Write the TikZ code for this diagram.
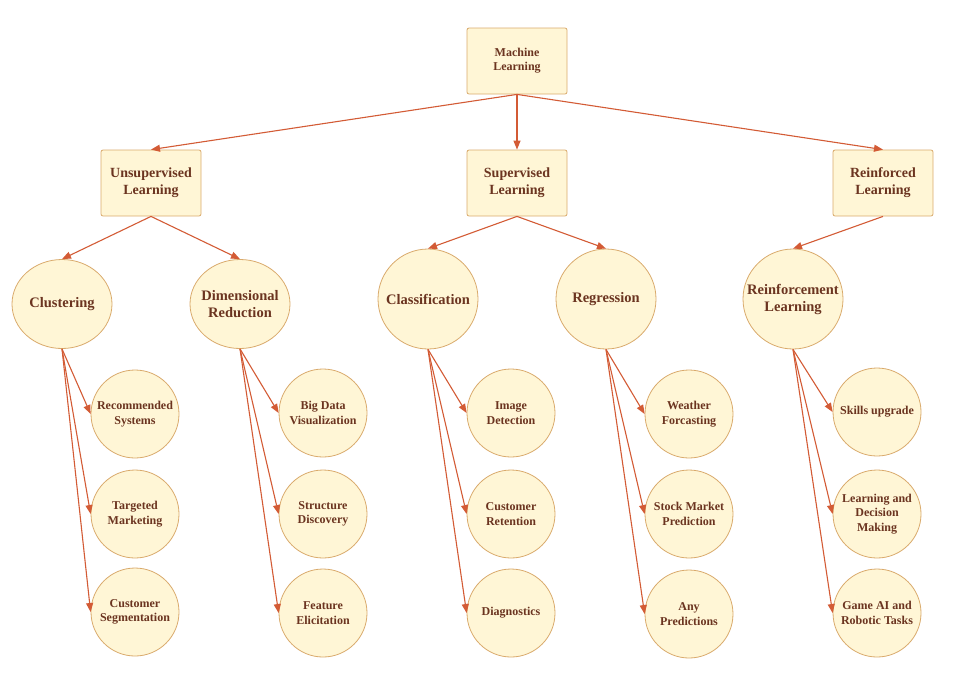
\documentclass[tikz,border=0pt]{standalone}
\usepackage{fontspec}
\setmainfont{Liberation Serif}
\usetikzlibrary{arrows.meta,shapes.geometric}
\definecolor{nodefill}{HTML}{FFF6D6}
\definecolor{nodeline}{HTML}{D9AA6C}
\definecolor{nodetext}{HTML}{6B3420}
\definecolor{edgecol}{HTML}{D35B35}
\begin{document}
\begin{tikzpicture}[x=1pt,y=-1pt,
	topbox/.style={draw=nodeline, fill=nodefill, rounded corners=2pt, line width=0.8pt,
		minimum width=100pt, minimum height=66pt, inner sep=0pt, align=center,
		text=nodetext, font=\bfseries\fontsize{14}{17}\selectfont},
	midcirc/.style={draw=nodeline, fill=nodefill, circle, line width=0.8pt,
		minimum size=100pt, inner sep=0pt, align=center,
		text=nodetext, font=\bfseries\fontsize{14.5}{17}\selectfont},
	midoval/.style={draw=nodeline, fill=nodefill, ellipse, line width=0.8pt,
		minimum width=100pt, minimum height=89pt, inner xsep=-10pt, inner ysep=0pt, align=center,
		text=nodetext, font=\bfseries\fontsize{14.5}{17}\selectfont},
	leafcirc/.style={draw=nodeline, fill=nodefill, circle, line width=0.8pt,
		minimum size=88pt, inner sep=0pt, align=center,
		text=nodetext, font=\bfseries\fontsize{12}{14.5}\selectfont},
	edge/.style={draw=edgecol, line width=1.1pt, -{Triangle[length=9pt,width=7pt]}}]
	\useasboundingbox (0,0) rectangle (960,689);
	\node[topbox, font=\bfseries\fontsize{12}{14}\selectfont] (v1) at (517, 61) {Machine\\Learning};
	\node[topbox] (v2) at (151, 183) {Unsupervised\\Learning};
	\node[topbox] (v3) at (517, 183) {Supervised\\Learning};
	\node[topbox] (v4) at (883, 183) {Reinforced\\Learning};
	\node[midoval] (v5) at (62, 304) {Clustering};
	\node[midoval] (v6) at (240, 304) {Dimensional\\Reduction};
	\node[midcirc] (v7) at (428, 299) {Classification};
	\node[midcirc] (v8) at (606, 299) {Regression};
	\node[midcirc] (v9) at (793, 299) {Reinforcement\\Learning};
	\node[leafcirc] (v10) at (135, 414) {Recommended\\Systems};
	\node[leafcirc] (v11) at (135, 514) {Targeted\\Marketing};
	\node[leafcirc] (v12) at (135, 612) {Customer\\Segmentation};
	\node[leafcirc] (v13) at (323, 413) {Big Data\\Visualization};
	\node[leafcirc] (v14) at (323, 514) {Structure\\Discovery};
	\node[leafcirc] (v15) at (323, 613) {Feature\\Elicitation};
	\node[leafcirc] (v16) at (511, 413) {Image\\Detection};
	\node[leafcirc] (v17) at (511, 514) {Customer\\Retention};
	\node[leafcirc] (v18) at (511, 613) {Diagnostics};
	\node[leafcirc] (v19) at (689, 414) {Weather\\Forcasting};
	\node[leafcirc] (v20) at (689, 514) {Stock Market\\Prediction};
	\node[leafcirc] (v21) at (689, 614) {Any\\Predictions};
	\node[leafcirc] (v22) at (877, 412) {Skills upgrade};
	\node[leafcirc] (v23) at (877, 514) {Learning and\\Decision\\Making};
	\node[leafcirc] (v24) at (877, 613) {Game AI and\\Robotic Tasks};
	 \draw[edge] (v1.south) -- (v2.north);
	 \draw[edge] (v1.south) -- (v3.north);
	 \draw[edge] (v1.south) -- (v4.north);
	 \draw[edge] (v2.south) -- (v5.north);
	 \draw[edge] (v2.south) -- (v6.north);
	 \draw[edge] (v3.south) -- (v7.north);
	 \draw[edge] (v3.south) -- (v8.north);
	 \draw[edge] (v4.south) -- (v9.north);
	 \draw[edge] (v5.south) -- (v10.west);
	 \draw[edge] (v5.south) -- (v11.west);
	 \draw[edge] (v5.south) -- (v12.west);
	 \draw[edge] (v6.south) -- (v13.west);
	 \draw[edge] (v6.south) -- (v14.west);
	 \draw[edge] (v6.south) -- (v15.west);
	 \draw[edge] (v7.south) -- (v16.west);
	 \draw[edge] (v7.south) -- (v17.west);
	 \draw[edge] (v7.south) -- (v18.west);
	 \draw[edge] (v8.south) -- (v19.west);
	 \draw[edge] (v8.south) -- (v20.west);
	 \draw[edge] (v8.south) -- (v21.west);
	 \draw[edge] (v9.south) -- (v22.west);
	 \draw[edge] (v9.south) -- (v23.west);
	 \draw[edge] (v9.south) -- (v24.west);
\end{tikzpicture}
\end{document}
